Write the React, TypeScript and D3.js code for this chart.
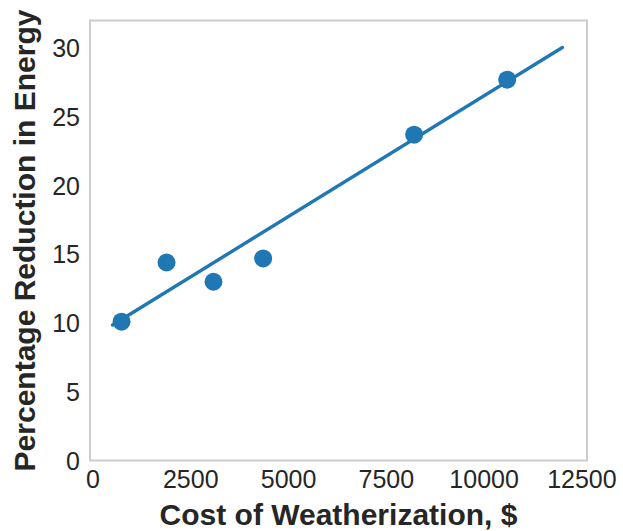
import React from "react";
import * as d3 from "d3";

const costX = [730, 1880, 3080, 4350, 8210, 10590];
const reductionY = [10.1, 14.4, 13.0, 14.7, 23.7, 27.7];
const fitX = [500, 12000];
const fitY = [9.85, 30.04];
const xTicks = [0, 2500, 5000, 7500, 10000, 12500];
const yTicks = [0, 5, 10, 15, 20, 25, 30];

const W = 623;
const H = 531;
const BLUE = "#1f77b4";
const TEXT = "#262626";
const FONT = "'Liberation Sans', Arial, sans-serif";

export default function App() {
  const x = d3.scaleLinear().domain([-77, 12630]).range([90, 587]);
  const y = d3.scaleLinear().domain([0, 32]).range([460.5, 20.5]);
  const line = d3
    .line<number>()
    .x((d) => x(d))
    .y((_, i) => y(fitY[i]));
  const [x0, x1] = x.range();
  const [y0, y1] = y.range();
  return (
    <svg
      width={W}
      height={H}
      style={{ position: "absolute", left: 0, top: 0, background: "#fff" }}
      fontFamily={FONT}
    >
      <rect x={x0} y={y1} width={x1 - x0} height={y0 - y1} fill="#fff" stroke="#cccccc" strokeWidth={2} />
      {xTicks.map((t) => (
        <text key={"x" + t} x={x(t)} y={488} textAnchor="middle" fontSize={25} fill={TEXT}>
          {t}
        </text>
      ))}
      {yTicks.map((t) => (
        <text key={"y" + t} x={80} y={y(t)} dy="0.36em" textAnchor="end" fontSize={25} fill={TEXT}>
          {t}
        </text>
      ))}
      <path d={line(fitX) || ""} fill="none" stroke={BLUE} strokeWidth={3.4} strokeLinecap="round" />
      {costX.map((c, i) => (
        <circle key={i} cx={x(c)} cy={y(reductionY[i])} r={9} fill={BLUE} />
      ))}
      <text x={(x0 + x1) / 2} y={525} textAnchor="middle" fontSize={30} fontWeight="bold" fill={TEXT}>
        Cost of Weatherization, $
      </text>
      <text
        transform={`translate(35,${(y0 + y1) / 2}) rotate(-90)`}
        textAnchor="middle"
        fontSize={30}
        fontWeight="bold"
        fill={TEXT}
      >
        Percentage Reduction in Energy
      </text>
    </svg>
  );
}
